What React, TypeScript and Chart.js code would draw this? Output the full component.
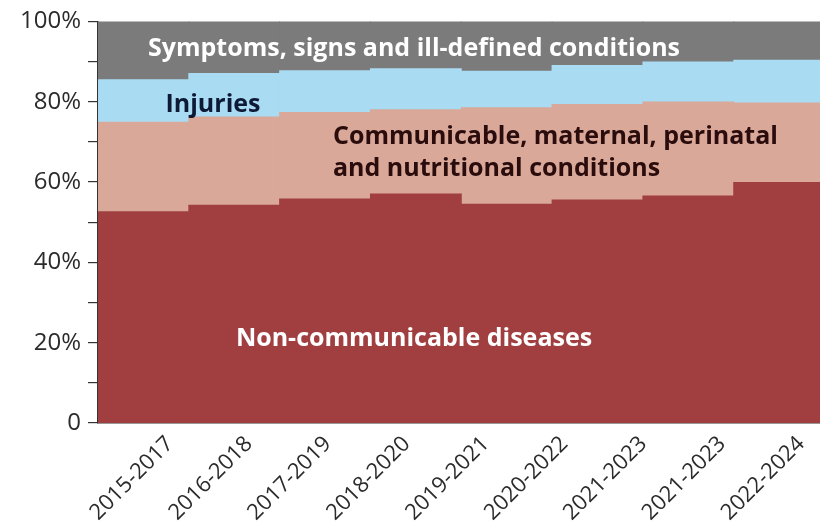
import React, { useEffect, useRef } from "react";
import { Chart, registerables } from "chart.js";

Chart.register(...registerables);

const periods = [
  "2015-2017",
  "2016-2018",
  "2017-2019",
  "2018-2020",
  "2019-2021",
  "2020-2022",
  "2021-2023",
  "2021-2023",
  "2022-2024",
];

const nonCommunicable = [52.6, 54.2, 55.8, 57.0, 54.5, 55.5, 56.5, 59.9];
const communicable = [22.3, 22.0, 21.5, 21.0, 24.0, 23.8, 23.4, 19.8];
const injuries = [10.6, 10.8, 10.4, 10.2, 9.1, 9.7, 10.0, 10.6];
const symptoms = [14.5, 13.0, 12.3, 11.8, 12.4, 11.0, 10.1, 9.7];

const yTicks = [0, 10, 20, 30, 40, 50, 60, 70, 80, 90, 100];

const COLORS = {
  ncd: "#a13f40",
  cmpn: "#d9a899",
  inj: "#a9dbf2",
  sym: "#7b7b7b",
};

const toPoints = (arr: number[]) => arr.map((v, i) => ({ x: i, y: v }));

const labelPlugin = {
  id: "areaLabels",
  afterDatasetsDraw(chart: any) {
    const { ctx, chartArea } = chart;
    const L = chartArea.left;
    const T = chartArea.top;
    ctx.save();
    ctx.textBaseline = "middle";
    ctx.font = "bold 25px 'Open Sans'";
    ctx.fillStyle = "#ffffff";
    ctx.textAlign = "center";
    ctx.fillText("Symptoms, signs and ill-defined conditions", L + 316, T + 27);
    ctx.fillText("Non-communicable diseases", L + 316, T + 317);
    ctx.fillStyle = "#0e1a35";
    ctx.fillText("Injuries", L + 115, T + 83);
    ctx.fillStyle = "#2a0c0c";
    ctx.textAlign = "left";
    ctx.fillText("Communicable, maternal, perinatal", L + 235, T + 115);
    ctx.fillText("and nutritional conditions", L + 235, T + 147);
    ctx.restore();
  },
};

export default function App() {
  const ref = useRef<HTMLCanvasElement>(null);

  useEffect(() => {
    document.body.style.margin = "0";
    const canvas = ref.current!;
    const chart = new Chart(canvas, {
      type: "bar",
      data: {
        datasets: [
          { label: "Non-communicable diseases", data: toPoints(nonCommunicable) as any, backgroundColor: COLORS.ncd, xAxisID: "xb" },
          { label: "Communicable, maternal, perinatal and nutritional conditions", data: toPoints(communicable) as any, backgroundColor: COLORS.cmpn, xAxisID: "xb" },
          { label: "Injuries", data: toPoints(injuries) as any, backgroundColor: COLORS.inj, xAxisID: "xb" },
          { label: "Symptoms, signs and ill-defined conditions", data: toPoints(symptoms) as any, backgroundColor: COLORS.sym, xAxisID: "xb" },
        ],
      },
      options: {
        responsive: false,
        animation: false,
        events: [],
        layout: { padding: { top: 21, left: 0, right: 0, bottom: 0 } },
        datasets: {
          bar: {
            categoryPercentage: 1,
            barPercentage: 1,
            borderWidth: 0,
            inflateAmount: 0.5,
          } as any,
        },
        plugins: {
          legend: { display: false },
          tooltip: { enabled: false },
        },
        scales: {
          xb: {
            type: "linear",
            display: false,
            stacked: true,
            offset: false,
            min: -0.5,
            max: 7.45,
            afterBuildTicks: (scale: any) => {
              scale.ticks = nonCommunicable.map((_, i) => ({ value: i }));
            },
          },
          x: {
            type: "linear",
            position: "bottom",
            offset: false,
            min: -0.913,
            max: 8.238,
            grid: { display: false, drawTicks: false },
            border: { display: true, color: "#333333", width: 1.5 },
            afterBuildTicks: (scale: any) => {
              scale.ticks = periods.map((_, i) => ({ value: i }));
            },
            afterFit: (scale: any) => {
              scale.height = 109;
              scale.paddingLeft = 0;
              scale.paddingRight = 0;
            },
            ticks: {
              autoSkip: false,
              minRotation: 45,
              maxRotation: 45,
              padding: 8,
              color: "#2b2b2b",
              font: { family: "'Open Sans'", size: 22 },
              callback: (v: any) => periods[v] ?? "",
            },
          },
          y: {
            type: "linear",
            stacked: true,
            min: 0,
            max: 100,
            afterBuildTicks: (scale: any) => {
              scale.ticks = yTicks.map((v) => ({ value: v }));
            },
            afterFit: (scale: any) => {
              scale.width = 98;
            },
            grid: {
              drawOnChartArea: false,
              drawTicks: true,
              tickLength: 10,
              color: "#333333",
              lineWidth: 1.2,
            },
            border: { display: true, color: "#333333", width: 1.5 },
            ticks: {
              padding: 7,
              color: "#2b2b2b",
              font: { family: "'Open Sans'", size: 24 },
              callback: (v: any) => (v % 20 === 0 ? (v === 0 ? "0" : v + "%") : ""),
            },
          },
        },
      },
      plugins: [labelPlugin],
    });
    return () => chart.destroy();
  }, []);

  return (
    <div style={{ width: 820, height: 532, background: "#fff" }}>
      <canvas ref={ref} width={820} height={532} style={{ display: "block" }} />
    </div>
  );
}
